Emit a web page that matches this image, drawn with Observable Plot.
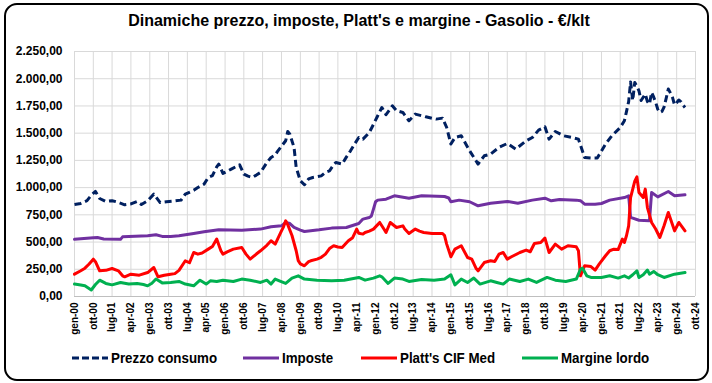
<!DOCTYPE html>
<html>
<head>
<meta charset="utf-8">
<script src="https://cdn.jsdelivr.net/npm/d3@7"></script>
<script src="https://cdn.jsdelivr.net/npm/@observablehq/plot@0.6"></script>
<style>
  html, body { margin: 0; padding: 0; background: #fff; }
  #wrap { position: relative; width: 712px; height: 383px; overflow: hidden; background: #fff; }
  #border { position: absolute; left: 4px; top: 3px; width: 705px; height: 378px; box-sizing: border-box;
            border: 2px solid #000; border-radius: 13px; pointer-events: none; }
  #title { position: absolute; left: 0; top: 12px; width: 718px; text-align: center;
           font-family: "Liberation Sans", Arial, sans-serif;
           font-weight: bold; font-size: 16px; color: #000; }
  #chart { position: absolute; left: 0; top: 0; }
  .leg { position: absolute; top: 349px; display: flex; align-items: center;
         font-family: "Liberation Sans", Arial, sans-serif;
         font-weight: bold; font-size: 15px; color: #000; white-space: nowrap; }
  .leg svg { margin-right: 3px; }
  .leg span { display: inline-block; transform: scaleX(0.89); transform-origin: left center; }
</style>
</head>
<body>
<div id="wrap">
  <div id="chart"></div>
  <div id="title">Dinamiche prezzo, imposte, Platt's e margine - Gasolio - €/klt</div>
  <div id="legend"></div>
  <div id="border"></div>
</div>
<script>
// month index from gen-2000, value in €/klt
const prezzoConsumo = [[0,845],[3,855],[6,880],[8,930],[10,965],[12,900],[15,873],[18,880],[20,870],[24,842],[27,850],[30,873],[32,845],[35,879],[38,940],[41,863],[44,870],[47,875],[51,885],[53,940],[57,975],[59,1001],[62,1032],[64,1093],[66,1110],[68,1190],[69,1216],[71,1130],[73,1150],[75,1170],[77,1190],[79,1209],[81,1124],[83,1105],[85,1093],[87,1115],[89,1139],[92,1230],[94,1277],[96,1300],[97,1330],[99,1380],[101,1430],[102,1515],[103,1490],[105,1369],[106,1185],[108,1063],[110,1026],[112,1080],[114,1093],[116,1100],[118,1108],[120,1140],[122,1154],[124,1210],[125,1231],[128,1216],[130,1280],[132,1338],[134,1400],[136,1460],[138,1445],[141,1506],[143,1580],[145,1660],[147,1736],[149,1670],[152,1751],[154,1706],[157,1690],[160,1614],[163,1675],[168,1650],[173,1629],[176,1638],[178,1552],[180,1400],[182,1460],[185,1476],[189,1338],[193,1216],[196,1292],[199,1308],[203,1369],[207,1405],[211,1354],[216,1430],[219,1460],[222,1528],[225,1558],[227,1445],[230,1515],[234,1476],[238,1460],[241,1445],[244,1277],[248,1271],[250,1271],[254,1400],[257,1476],[261,1552],[263,1614],[264,1700],[265,1790],[266,1970],[267,1800],[268,1965],[269,1930],[270,1889],[271,1800],[272,1830],[273,1859],[274,1790],[275,1767],[276,1874],[277,1830],[278,1782],[279,1720],[280,1690],[281,1700],[282,1740],[283,1820],[284,1905],[285,1870],[286,1828],[287,1760],[288,1780],[289,1804],[290,1790],[291,1760],[292,1736]];
const imposte = [[0,525],[9,540],[11,542],[14,528],[22,525],[23,548],[35,557],[39,567],[42,552],[46,551],[50,557],[57,579],[62,594],[69,612],[80,609],[89,619],[94,640],[99,649],[101,680],[103,670],[105,634],[108,610],[110,597],[117,612],[123,628],[130,634],[136,670],[138,711],[141,726],[142,740],[143,803],[144,870],[145,885],[149,894],[153,925],[160,903],[166,925],[177,918],[179,905],[180,870],[184,885],[189,870],[193,833],[199,857],[207,873],[212,857],[219,885],[225,903],[228,879],[232,891],[240,885],[242,880],[244,848],[249,848],[252,854],[256,885],[263,909],[265,925],[266,726],[270,700],[275,695],[276,955],[279,915],[284,964],[287,925],[292,934]];
const plattsCifMed = [[0,205],[3,236],[5,260],[7,298],[9,343],[10,320],[12,236],[15,240],[18,257],[21,236],[23,190],[24,181],[27,205],[31,196],[35,220],[38,266],[40,181],[43,195],[46,205],[48,210],[50,240],[53,328],[55,310],[57,404],[59,389],[61,400],[64,435],[66,460],[68,527],[70,420],[71,389],[73,410],[76,435],[80,450],[82,389],[84,343],[87,390],[89,420],[92,470],[94,512],[96,481],[99,603],[100,640],[101,695],[102,660],[104,560],[106,420],[107,330],[108,300],[110,282],[112,320],[113,328],[116,343],[118,360],[120,389],[122,440],[124,466],[126,455],[128,450],[131,512],[133,540],[135,619],[136,580],[138,573],[139,588],[141,600],[143,619],[145,660],[146,680],[148,620],[149,588],[151,680],[154,634],[157,649],[158,620],[160,579],[163,619],[165,600],[167,588],[171,579],[176,579],[177,560],[178,481],[180,365],[182,435],[185,466],[188,358],[190,343],[192,260],[193,236],[196,312],[199,328],[201,321],[203,389],[205,404],[207,343],[209,365],[213,404],[216,426],[218,411],[220,487],[223,496],[225,536],[227,404],[230,481],[233,435],[236,466],[240,456],[241,420],[242,190],[244,282],[247,275],[249,243],[251,300],[254,374],[256,420],[258,435],[260,431],[262,527],[263,496],[264,560],[265,649],[266,909],[268,1060],[269,1099],[270,955],[272,909],[273,986],[274,817],[276,680],[278,620],[280,542],[282,650],[284,771],[287,603],[289,680],[292,603]];
const margineLordo = [[0,115],[3,105],[5,98],[8,60],[10,110],[12,150],[15,120],[18,107],[22,129],[26,114],[30,120],[33,110],[35,98],[37,121],[39,160],[42,125],[46,129],[50,138],[53,114],[57,98],[60,150],[63,114],[65,144],[68,138],[71,150],[76,138],[80,160],[84,150],[89,129],[92,150],[94,114],[96,160],[98,144],[101,120],[104,169],[107,190],[110,160],[116,150],[123,144],[129,150],[136,175],[139,150],[143,169],[146,190],[147,181],[150,120],[153,169],[157,160],[160,138],[166,156],[172,150],[177,160],[180,199],[182,107],[185,160],[188,129],[191,169],[194,114],[199,144],[202,129],[205,114],[208,160],[213,138],[217,160],[221,129],[226,175],[230,150],[235,138],[240,160],[242,250],[243,260],[245,190],[247,175],[252,175],[256,190],[260,169],[263,190],[265,170],[267,200],[269,236],[270,175],[272,200],[274,243],[275,205],[277,230],[279,200],[282,175],[287,205],[292,220]];

const seriesNames = ["Prezzo consumo", "Imposte", "Platt's CIF Med", "Margine lordo"];
const seriesColors = ["#002060", "#7030A0", "#FF0000", "#00B050"];
const yTickValues = [0, 250, 500, 750, 1000, 1250, 1500, 1750, 2000, 2250];
const mesi = ["gen","feb","mar","apr","mag","giu","lug","ago","set","ott","nov","dic"];
const xTickMonths = d3.range(0, 298, 9);

const toDate = m => new Date(Date.UTC(2000, m, 1));
const all = [prezzoConsumo, imposte, plattsCifMed, margineLordo];
const rows = all.flatMap((s, i) => s.map(([m, v]) => ({date: toDate(m), value: v, serie: seriesNames[i]})));

const itLocale = d3.formatLocale({decimal: ",", thousands: ".", grouping: [3], currency: ["", "€"]});
const fmtY = itLocale.format(",.2f");
const fmtX = d => `${mesi[d.getUTCMonth()]}-${String(d.getUTCFullYear() % 100).padStart(2, "0")}`;
const xTicks = xTickMonths.map(toDate);

const lineMark = (i) => Plot.line(rows.filter(r => r.serie === seriesNames[i]), {
  x: "date", y: "value", stroke: seriesColors[i], strokeWidth: 3,
  strokeLinejoin: "round", strokeLinecap: i === 0 ? "butt" : "round",
  strokeDasharray: i === 0 ? "7,4" : null
});

const chart = Plot.plot({
  width: 712, height: 383,
  marginLeft: 74, marginRight: 17, marginTop: 51, marginBottom: 87,
  style: {fontFamily: "'Liberation Sans', Arial, sans-serif", background: "transparent", color: "#000"},
  x: {type: "utc", domain: [toDate(0), toDate(297)]},
  y: {domain: [0, 2250]},
  marks: [
    Plot.gridY(yTickValues, {stroke: "#d9d9d9", strokeOpacity: 1, strokeWidth: 1}),
    Plot.gridX(xTicks, {stroke: "#d9d9d9", strokeOpacity: 1, strokeWidth: 1}),
    Plot.ruleY([0], {stroke: "#bfbfbf"}),
    Plot.axisY(yTickValues, {tickFormat: fmtY, tickSize: 0, tickPadding: 12, fontSize: 12, fontWeight: "bold", label: null}),
    Plot.axisX(xTicks, {tickFormat: fmtX, tickRotate: -90, tickSize: 0, tickPadding: 6, fontSize: 10, fontWeight: "bold", label: null}),
    lineMark(0), lineMark(1), lineMark(2), lineMark(3)
  ]
});
document.getElementById("chart").appendChild(chart);

// legend
const legLeft = [72, 243, 361, 522];
const legend = document.getElementById("legend");
seriesNames.forEach((name, i) => {
  const div = document.createElement("div");
  div.className = "leg";
  div.style.left = legLeft[i] + "px";
  const dash = i === 0 ? 'stroke-dasharray="7,3"' : '';
  div.innerHTML = `<svg width="36" height="10"><line x1="0" y1="5" x2="36" y2="5" stroke="${seriesColors[i]}" stroke-width="3" ${dash}/></svg><span>${name}</span>`;
  legend.appendChild(div);
});
</script>
</body>
</html>
